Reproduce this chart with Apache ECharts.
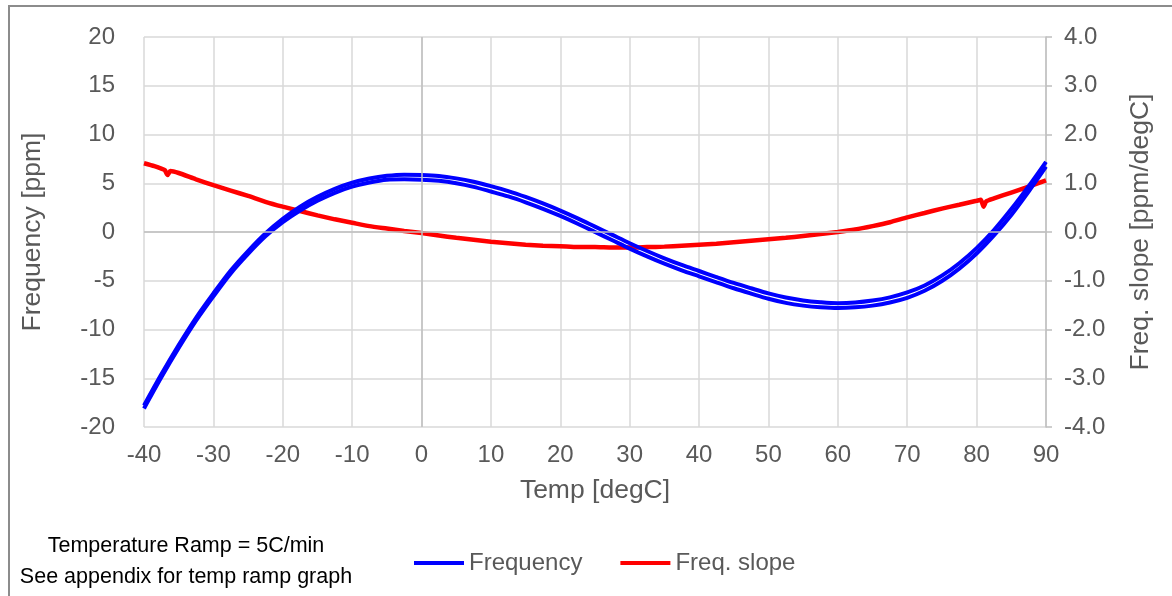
<!DOCTYPE html>
<html>
<head>
<meta charset="utf-8">
<title>Frequency vs temperature</title>
<script src="https://cdn.jsdelivr.net/npm/echarts@6/dist/echarts.min.js"></script>
<style>
  html, body { margin: 0; padding: 0; background: #fff; }
  #main { width: 1172px; height: 596px; }
</style>
</head>
<body>
<div id="main"></div>
<script>
// temperature points (degC) for the frequency curves
var freqTemps = [-40, -37.5, -35, -32.5, -30, -27.5, -25, -22.5, -20, -17.5, -15, -12.5, -10, -7.5, -5, -2.5,
  0, 2.5, 5, 7.5, 10, 12.5, 15, 17.5, 20, 22.5, 25, 27.5, 30, 32.5, 35, 37.5, 40, 42.5, 45, 47.5,
  50, 52.5, 55, 57.5, 60, 62.5, 65, 67.5, 70, 72.5, 75, 77.5, 80, 82.5, 85, 87.5, 90];
// frequency [ppm], upper branch of the loop
var freqUp = [-17.8, -14.6, -11.6, -8.8, -6.3, -3.95, -1.95, -0.15, 1.35, 2.6, 3.6, 4.42, 5.05, 5.48, 5.76, 5.88,
  5.85, 5.75, 5.5, 5.15, 4.7, 4.2, 3.6, 2.93, 2.2, 1.4, 0.55, -0.3, -1.15, -1.95, -2.7, -3.38, -4.0, -4.62, -5.22, -5.77,
  -6.3, -6.72, -7.02, -7.2, -7.3, -7.23, -7.03, -6.7, -6.2, -5.48, -4.48, -3.2, -1.65, 0.2, 2.35, 4.7, 7.2];
// frequency [ppm], lower branch of the loop
var freqDown = [-18.1, -14.9, -11.9, -9.1, -6.6, -4.25, -2.25, -0.45, 1.0, 2.2, 3.2, 4.02, 4.65, 5.08, 5.36, 5.4,
  5.37, 5.25, 5.0, 4.63, 4.15, 3.65, 3.05, 2.38, 1.65, 0.85, 0.0, -0.85, -1.7, -2.5, -3.25, -3.93, -4.55, -5.17, -5.77, -6.32,
  -6.85, -7.27, -7.55, -7.72, -7.8, -7.73, -7.55, -7.23, -6.75, -6.03, -5.03, -3.75, -2.2, -0.35, 1.75, 4.15, 6.7];

// temperature points (degC) for the slope curve
var slopeTemps = [-40, -38.5, -37.5, -37, -36.6, -36.2, -35, -32.5, -30, -27.5, -25, -22.5, -20, -17.5, -15, -12.5,
  -10, -7.5, -5, -2.5, 0, 2.5, 5, 7.5, 10, 12.5, 15, 17.5, 20, 22.5, 25, 27.5, 30, 32.5, 35, 37.5,
  40, 42.5, 45, 47.5, 50, 52.5, 55, 57.5, 60, 62.5, 65, 67.5, 70, 72.5, 75, 77.5, 80, 80.6, 81, 81.4, 82.5, 85, 87.5, 90];
// freq. slope [ppm/degC]
var slopeVals = [1.41, 1.35, 1.3, 1.27, 1.17, 1.25, 1.21, 1.08, 0.96, 0.85, 0.74, 0.62, 0.52, 0.43, 0.34, 0.26,
  0.19, 0.12, 0.07, 0.02, -0.02, -0.07, -0.12, -0.16, -0.2, -0.23, -0.26, -0.28, -0.29, -0.31, -0.31, -0.32, -0.32, -0.31, -0.3, -0.28,
  -0.26, -0.24, -0.21, -0.18, -0.15, -0.12, -0.08, -0.04, 0.0, 0.05, 0.12, 0.2, 0.3, 0.39, 0.48, 0.56, 0.64, 0.66, 0.52, 0.63, 0.69, 0.81, 0.93, 1.06];

var legendNames = ["Frequency", "Freq. slope"];
var noteLines = ["Temperature Ramp = 5C/min", "See appendix for temp ramp graph"];

function pairs(xs, ys) {
  return xs.map(function (x, i) { return [x, ys[i]]; });
}

var font = "'Liberation Sans', Arial, sans-serif";
var grey = "#595959";

var myChart = echarts.init(document.getElementById("main"));
myChart.setOption({
  animation: false,
  textStyle: { fontFamily: font },
  grid: { left: 144, right: 126, top: 37, bottom: 169 },
  graphic: [
    {
      type: "rect", z: -10, silent: true,
      shape: { x: 9, y: 6, width: 1220, height: 640 },
      style: { fill: "none", stroke: "#8c8c8c", lineWidth: 2 }
    },
    {
      type: "text", x: 186, y: 531, silent: true,
      style: {
        text: noteLines.join("\n"), fill: "#000",
        align: "center", verticalAlign: "top",
        font: "21.5px " + font, lineHeight: 31
      }
    }
  ],
  legend: {
    data: legendNames,
    left: 409, top: 546,
    icon: "rect", itemWidth: 50, itemHeight: 4, itemGap: 38,
    textStyle: { fontSize: 24, color: grey, fontFamily: font }
  },
  xAxis: {
    type: "value", min: -40, max: 90, interval: 10,
    name: "Temp [degC]", nameLocation: "middle", nameGap: 50,
    nameTextStyle: { fontSize: 26.5, color: grey },
    axisLine: { show: false },
    axisTick: { show: false },
    axisLabel: { fontSize: 24, color: grey, margin: 16 },
    splitLine: { lineStyle: { color: "#d9d9d9", width: 1.5 } }
  },
  yAxis: [
    {
      type: "value", min: -20, max: 20, interval: 5,
      name: "Frequency [ppm]", nameLocation: "middle", nameGap: 98, nameRotate: 90,
      nameTextStyle: { fontSize: 26.5, color: grey },
      axisLine: { show: false },
      axisTick: { show: false },
      axisLabel: { fontSize: 24, color: grey, margin: 29 },
      splitLine: { lineStyle: { color: "#d9d9d9", width: 1.5 } }
    },
    {
      type: "value", min: -4, max: 4, interval: 1, position: "right",
      name: "Freq. slope [ppm/degC]", nameLocation: "middle", nameGap: 81, nameRotate: 90,
      nameTextStyle: { fontSize: 26.5, color: grey },
      axisLine: { show: true, lineStyle: { color: "#bfbfbf", width: 1.5 } },
      axisTick: { show: true, length: 6, lineStyle: { color: "#bfbfbf", width: 1.5 } },
      axisLabel: {
        fontSize: 24, color: grey, margin: 18,
        formatter: function (v) { return v.toFixed(1); }
      },
      splitLine: { show: false }
    }
  ],
  series: [
    {
      name: "zero", type: "line", data: [], z: 1, silent: true,
      markLine: {
        silent: true, symbol: "none", label: { show: false },
        lineStyle: { color: "#bfbfbf", type: "solid", width: 1.5 },
        data: [{ xAxis: 0 }, { yAxis: 0 }]
      }
    },
    {
      name: "Freq. slope", type: "line", yAxisIndex: 1, z: 2,
      data: pairs(slopeTemps, slopeVals),
      showSymbol: false, symbol: "none", smooth: 0.2,
      color: "#ff0000",
      lineStyle: { color: "#ff0000", width: 4.5 }
    },
    {
      name: "Frequency", type: "line", z: 3,
      data: pairs(freqTemps, freqUp),
      showSymbol: false, symbol: "none", smooth: 0.3,
      color: "#0000ff",
      lineStyle: { color: "#0000ff", width: 4 }
    },
    {
      name: "Frequency", type: "line", z: 3,
      data: pairs(freqTemps, freqDown),
      showSymbol: false, symbol: "none", smooth: 0.3,
      color: "#0000ff",
      lineStyle: { color: "#0000ff", width: 4 }
    }
  ]
});
window.addEventListener("resize", function () {
  myChart.resize();
});
</script>
</body>
</html>
